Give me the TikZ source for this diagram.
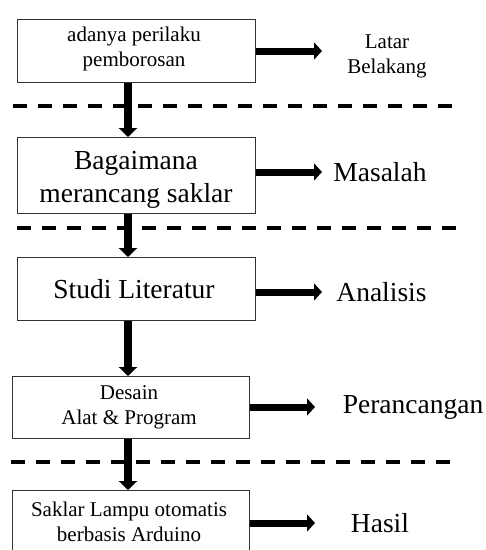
\documentclass[tikz,border=0pt]{standalone}
\usepackage{fontspec}
\setmainfont{Liberation Serif}
\usetikzlibrary{arrows.meta}
\begin{document}
\begin{tikzpicture}[x=1pt,y=-1pt,
  box/.style={draw=black!80, line width=1.2pt, fill=white, inner sep=0pt, anchor=north west},
  big/.style={font=\fontsize{27.5}{33}\selectfont},
  small/.style={font=\fontsize{21}{25}\selectfont},
  lab/.style={inner sep=0pt, align=center},
  rarrow/.style={line width=7pt, -{Triangle[length=8pt,width=17pt]}},
  darrow/.style={line width=8pt, -{Triangle[length=9pt,width=18pt]}},
  sep/.style={line width=4.5pt, dash pattern=on 14pt off 11pt}]
\useasboundingbox (0,0) rectangle (486,550);
\clip (0,0) rectangle (486,550);
% separators
\coordinate (s1a) at (13,106); \coordinate (s1b) at (456,106);
\coordinate (s2a) at (17,228); \coordinate (s2b) at (458,228);
\coordinate (s3a) at (11,462); \coordinate (s3b) at (454,462);
\draw[sep] (s1a) -- (s1b);
\draw[sep] (s2a) -- (s2b);
\draw[sep] (s3a) -- (s3b);
% boxes
\node[box, minimum width=238pt, minimum height=63pt] (b1) at (17,19) {};
\node[box, minimum width=238pt, minimum height=76pt] (b2) at (17,137) {};
\node[box, minimum width=238pt, minimum height=63pt] (b3) at (17,257) {};
\node[box, minimum width=237pt, minimum height=62pt] (b4) at (12,376) {};
\node[box, minimum width=237pt, minimum height=66pt] (b5) at (12,490) {};
% box texts
\node[lab, small] (t1) at (134,49) {adanya perilaku\\pemborosan};
\node[lab, big] (t2) at (136,180) {Bagaimana\\merancang saklar};
\node[lab, big] (t3) at (134,289) {Studi Literatur};
\node[lab, small] (t4) at (129,407) {Desain\\Alat \& Program};
\node[lab, small] (t5) at (129,522) {Saklar Lampu otomatis\\berbasis Arduino};
% labels
\node[lab, small] (l1) at (387,56) {Latar\\Belakang};
\node[lab, big] (l2) at (380,172) {Masalah};
\node[lab, big] (l3) at (381.5,292) {Analisis};
\node[lab, big] (l4) at (413,407) {Perancangan};
\node[lab, big] (l5) at (380,523) {Hasil};
% arrow end points
\coordinate (e1) at (322,51);
\coordinate (e2) at (322,172);
\coordinate (e3) at (322,292);
\coordinate (e4) at (315,407);
\coordinate (e5) at (315,523);
\coordinate (ax) at (128,0);
% right arrows
\draw[rarrow] (b1.east |- e1) -- (e1);
\draw[rarrow] (b2.east |- e2) -- (e2);
\draw[rarrow] (b3.east |- e3) -- (e3);
\draw[rarrow] (b4.east |- e4) -- (e4);
\draw[rarrow] (b5.east |- e5) -- (e5);
% down arrows
\draw[darrow] (b1.south -| ax) -- (b2.north -| ax);
\draw[darrow] (b2.south -| ax) -- (b3.north -| ax);
\draw[darrow] (b3.south -| ax) -- (b4.north -| ax);
\draw[darrow] (b4.south -| ax) -- (b5.north -| ax);
\end{tikzpicture}
\end{document}
